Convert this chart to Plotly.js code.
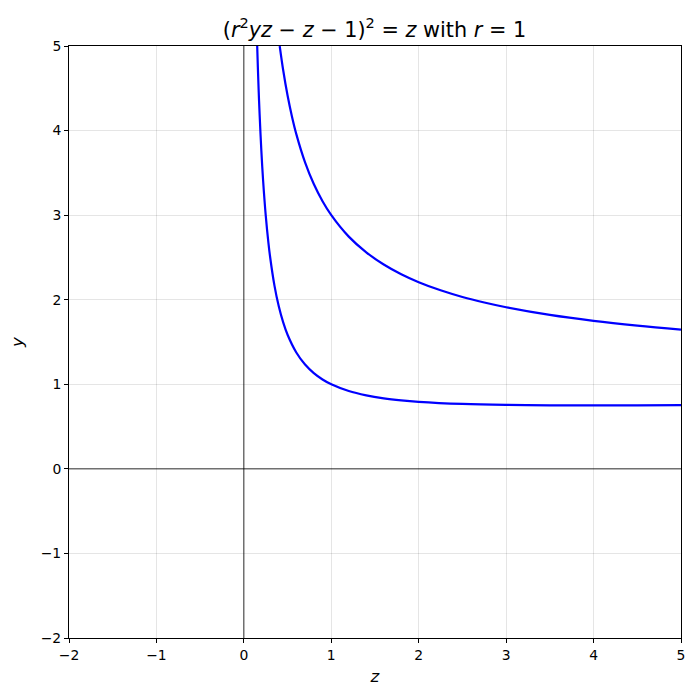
<!DOCTYPE html>
<html>
<head>
<meta charset="utf-8">
<script src="https://cdn.plot.ly/plotly-3.0.1.min.js"></script>
<style>html,body{margin:0;padding:0;background:#fff;}#chart{width:700px;height:700px;}</style>
</head>
<body>
<div id="chart"></div>
<script>
// Upper branch
const zUpper = [0.41, 0.45, 0.5, 0.55, 0.6, 0.7, 0.8, 0.9, 1.0, 1.2, 1.4, 1.6, 1.8, 2.0, 2.25, 2.5, 2.75, 3.0, 3.5, 4.0, 4.5, 5.0];
const yUpper = [5.0, 4.713, 4.414, 4.167, 3.958, 3.624, 3.368, 3.165, 3.0, 2.746, 2.560, 2.416, 2.301, 2.207, 2.111, 2.032, 1.967, 1.911, 1.820, 1.75, 1.694, 1.647];
// Lower branch
const zLower = [0.1525, 0.16, 0.17, 0.18, 0.2, 0.22, 0.25, 0.28, 0.3, 0.35, 0.4, 0.45, 0.5, 0.6, 0.7, 0.8, 0.9, 1.0, 1.2, 1.4, 1.6, 1.8, 2.0, 2.5, 3.0, 3.5, 4.0, 4.5, 5.0];
const yLower = [5.0, 4.75, 4.457, 4.199, 3.764, 3.413, 3.0, 2.682, 2.508, 2.167, 1.919, 1.732, 1.586, 1.376, 1.233, 1.132, 1.057, 1.0, 0.920, 0.869, 0.834, 0.810, 0.793, 0.768, 0.756, 0.751, 0.75, 0.751, 0.753];
const tickVals = [-2, -1, 0, 1, 2, 3, 4, 5];
const tickText = ['\u22122', '\u22121', '0', '1', '2', '3', '4', '5'];

const lineStyle = {color: '#0000ff', width: 2.2, shape: 'spline', smoothing: 1};
const traces = [
  {x: zUpper, y: yUpper, mode: 'lines', line: lineStyle, hoverinfo: 'skip', showlegend: false},
  {x: zLower, y: yLower, mode: 'lines', line: lineStyle, hoverinfo: 'skip', showlegend: false}
];
const font = {family: 'DejaVu Sans, sans-serif', color: '#000'};
const axisCommon = {
  range: [-2, 5], tickvals: tickVals, ticktext: tickText,
  showgrid: true, gridcolor: 'rgba(0,0,0,0.1)', gridwidth: 1,
  zeroline: false, showline: true, linecolor: '#000', linewidth: 1, mirror: true,
  ticks: 'outside', ticklen: 4, tickwidth: 1, tickcolor: '#000',
  tickfont: {family: font.family, size: 13.9, color: '#000'},
  fixedrange: true
};
const layout = {
  width: 700, height: 700,
  margin: {l: 69, r: 19, t: 46, b: 62},
  paper_bgcolor: '#fff', plot_bgcolor: '#fff',
  font: font,
  title: {text: '(<i>r</i><sup>2</sup><i>yz</i> \u2212 <i>z</i> \u2212 1)<sup>2</sup> = <i>z</i> with <i>r</i> = 1',
          font: {family: font.family, size: 20.8, color: '#000'}, x: 0.535, xanchor: 'center', y: 0.958, yanchor: 'middle'},
  xaxis: Object.assign({}, axisCommon, {title: {text: '<i>z</i>', font: {family: font.family, size: 16.7}, standoff: 8}}),
  yaxis: Object.assign({}, axisCommon, {title: {text: '<i>y</i>', font: {family: font.family, size: 16.7}, standoff: 12}}),
  shapes: [
    {type: 'line', xref: 'x', yref: 'y', x0: 0, x1: 0, y0: -2, y1: 5, line: {color: '#000', width: 0.8}, layer: 'below'},
    {type: 'line', xref: 'x', yref: 'y', x0: -2, x1: 5, y0: 0, y1: 0, line: {color: '#000', width: 0.8}, layer: 'below'}
  ]
};
Plotly.newPlot('chart', traces, layout, {staticPlot: true, displayModeBar: false});
</script>
</body>
</html>
